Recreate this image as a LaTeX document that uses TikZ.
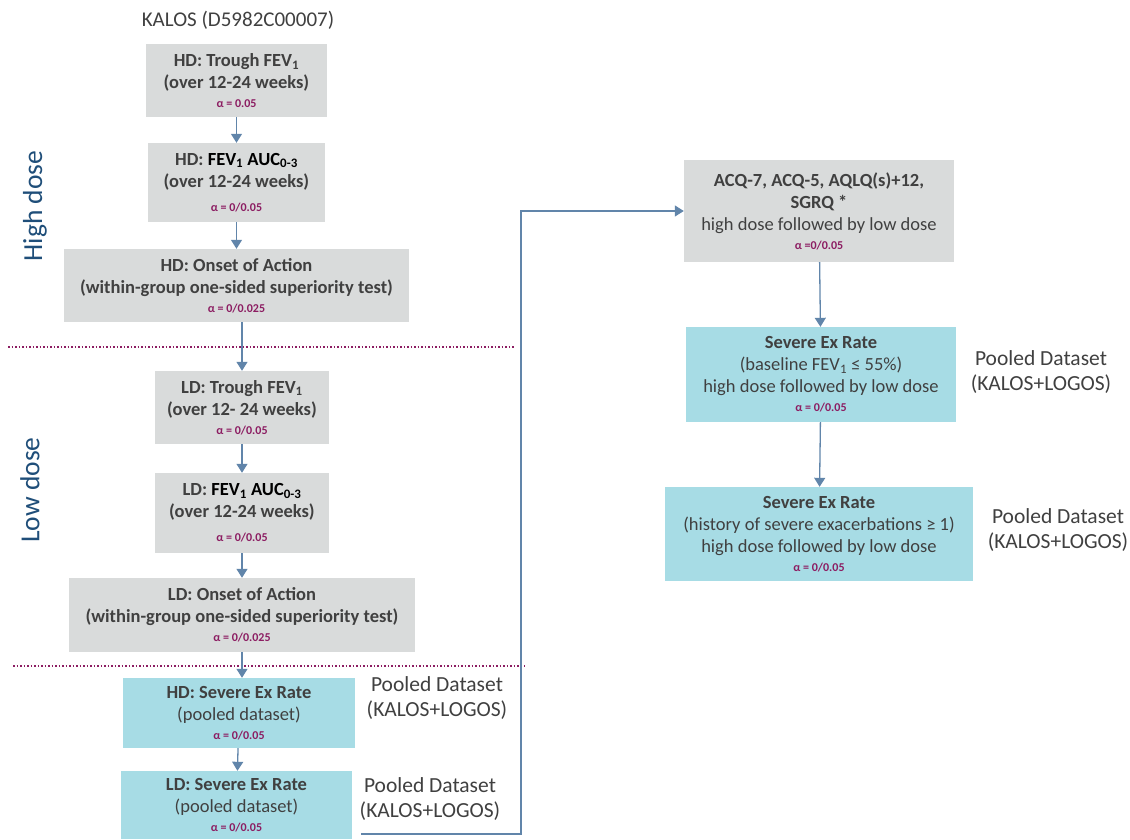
\documentclass[tikz,border=0pt]{standalone}
\usepackage{fontspec}
\setmainfont{Carlito}
\usetikzlibrary{arrows.meta,positioning,calc}
\definecolor{boxgrey}{HTML}{D9DBDB}
\definecolor{boxcyan}{HTML}{A7DCE5}
\definecolor{txtgrey}{HTML}{404040}
\definecolor{alphared}{HTML}{8C1D62}
\definecolor{arrowblue}{HTML}{6185AA}
\definecolor{dosenavy}{HTML}{1F4E79}
\newcommand{\alphatxt}[1]{{\fontsize{12}{13}\selectfont\color{alphared}\textbf{#1}}}

\begin{document}
\begin{tikzpicture}[x=1pt, y=-1pt,
    font=\fontsize{18.5}{22}\selectfont, text=txtgrey,
    greybox/.style={fill=boxgrey, align=center, inner sep=0pt,
                    font=\fontsize{18.5}{22}\selectfont\bfseries},
    pooledbox/.style={fill=boxcyan, align=center, inner sep=0pt},
    note/.style={align=center, font=\fontsize{21.5}{25}\selectfont, text=txtgrey},
    arrow/.style={-{Triangle[length=9pt,width=11pt]}, line width=1.3pt, arrowblue},
    sep/.style={alphared, line width=1.6pt, dash pattern=on 1.5pt off 2pt},
    dose/.style={rotate=90, font=\fontsize{27.5}{30}\selectfont, text=dosenavy}
]
\useasboundingbox (0,0) rectangle (1130,839);
\node[font=\fontsize{21}{24}\selectfont] (title) at (238,20) {KALOS (D5982C00007)};
% high dose
\node[greybox, minimum width=181, minimum height=73] (hdtrough) at (236.5,80.5)
    {HD: Trough FEV\textsubscript{1}\\(over 12-24 weeks)\\[-3pt]\alphatxt{α = 0.05}};
\node[greybox, minimum width=177, minimum height=79] (hdauc) at (236.5,182.5)
    {HD: \textcolor{black}{FEV\textsubscript{1} AUC\textsubscript{0-3}}\\(over 12-24 weeks)\\[2pt]\alphatxt{α = 0/0.05}};
\node[greybox, minimum width=345, minimum height=73] (hdonset) at (236.5,285.5)
    {HD: Onset of Action\\(within-group one-sided superiority test)\\[-3pt]\alphatxt{α = 0/0.025}};
% low dose
\node[greybox, minimum width=174, minimum height=73] (ldtrough) at (242,407.5)
    {LD: Trough FEV\textsubscript{1}\\(over 12- 24 weeks)\\[-3pt]\alphatxt{α = 0/0.05}};
\node[greybox, minimum width=174, minimum height=80] (ldauc) at (242,513)
    {LD: \textcolor{black}{FEV\textsubscript{1} AUC\textsubscript{0-3}}\\(over 12-24 weeks)\\[2pt]\alphatxt{α = 0/0.05}};
\node[greybox, minimum width=346, minimum height=74] (ldonset) at (242,615)
    {LD: Onset of Action\\(within-group one-sided superiority test)\\[-3pt]\alphatxt{α = 0/0.025}};
% pooled
\node[pooledbox, minimum width=232, minimum height=70] (hdsevere) at (239,713)
    {\textbf{HD: Severe Ex Rate}\\(pooled dataset)\\[-3pt]\alphatxt{α = 0/0.05}};
\node[pooledbox, minimum width=231, minimum height=68] (ldsevere) at (236.5,805)
    {\textbf{LD: Severe Ex Rate}\\(pooled dataset)\\[-3pt]\alphatxt{α = 0/0.05}};
% right column
\node[greybox, minimum width=270, minimum height=102] (acq) at (819,211)
    {ACQ-7, ACQ-5, AQLQ(s)+12,\\SGRQ *\\\mdseries high dose followed by low dose\\[-3pt]\alphatxt{α =0/0.05}};
\node[pooledbox, minimum width=270, minimum height=95] (sevfev) at (821,374.5)
    {\textbf{Severe Ex Rate}\\(baseline FEV\textsubscript{1} ≤ 55\%)\\high dose followed by low dose\\[-3pt]\alphatxt{α = 0/0.05}};
\node[pooledbox, minimum width=308, minimum height=94] (sevhist) at (819,534)
    {\textbf{Severe Ex Rate}\\(history of severe exacerbations ≥ 1)\\high dose followed by low dose\\[-3pt]\alphatxt{α = 0/0.05}};
% labels
\node[note] (pool1) at (437,698) {Pooled Dataset\\(KALOS+LOGOS)};
\node[note] (pool2) at (430,799) {Pooled Dataset\\(KALOS+LOGOS)};
\node[note] (pool3) at (1041,372) {Pooled Dataset\\(KALOS+LOGOS)};
\node[note] (pool4) at (1058,530) {Pooled Dataset\\(KALOS+LOGOS)};
\node[dose] (high) at (35,206) {High dose};
\node[dose] (low) at (30,490) {Low dose};
% separators
\draw[sep] (8,347) -- (515,347);
\draw[sep] (13,666) -- (525,666);
% connectors
\draw[arrow] (hdtrough) -- (hdauc);
\draw[arrow] (hdauc) -- (hdonset);
\draw[arrow] (hdonset.south -| ldtrough.north) -- (ldtrough.north);
\draw[arrow] (ldtrough) -- (ldauc);
\draw[arrow] (ldauc) -- (ldonset);
\draw[arrow] (ldonset.south) -- (ldonset.south |- hdsevere.north);
\draw[arrow] (hdsevere) -- (ldsevere);
\coordinate (bend) at (521,834);
\draw[arrow] ([xshift=9]ldsevere.east |- bend) -- (bend) |- (acq.west);
\draw[arrow] (acq) -- (sevfev);
\draw[arrow] (sevfev) -- (sevhist);
\end{tikzpicture}
\end{document}
